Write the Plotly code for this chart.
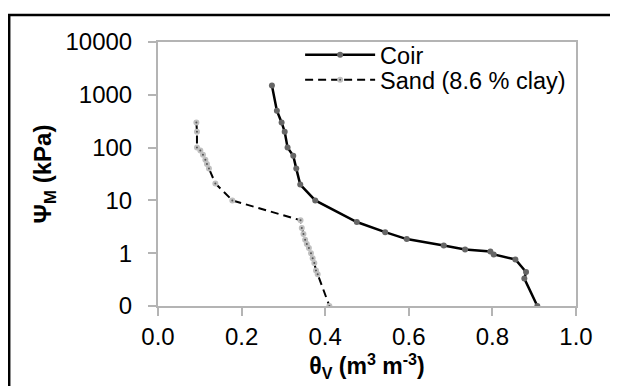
import plotly.graph_objects as go

# Coir retention curve
coir_theta = [0.2725, 0.2844, 0.2957, 0.3031, 0.310, 0.3236, 0.3308, 0.3403, 0.3762,
              0.4756, 0.5435, 0.5951, 0.6836, 0.7347, 0.7952, 0.8031, 0.855, 0.8805,
              0.8764, 0.9075]
coir_psi = [1500, 500, 300, 200, 100, 70, 40, 20, 10,
            3.9, 2.5, 1.85, 1.4, 1.18, 1.08, 0.95, 0.76, 0.44,
            0.33, 0.1]

# Sand (8.6 % clay) retention curve
sand_theta = [0.0918, 0.0932, 0.0932, 0.1013, 0.1076, 0.1133, 0.1171, 0.1219, 0.1372,
              0.1778, 0.341, 0.344, 0.348, 0.352, 0.356, 0.361, 0.366, 0.370, 0.374,
              0.378, 0.382, 0.410]
sand_psi = [300, 200, 100, 88, 73, 59, 49, 40, 21,
            10, 4.2, 3, 2.3, 1.8, 1.5, 1.25, 1, 0.8, 0.65,
            0.47, 0.4, 0.1]

y_tickvals = [0.1, 1, 10, 100, 1000, 10000]
y_ticktext = ["0", "1", "10", "100", "1000", "10000"]
x_tickvals = [0.0, 0.2, 0.4, 0.6, 0.8, 1.0]
x_ticktext = ["0.0", "0.2", "0.4", "0.6", "0.8", "1.0"]

FONT = "Liberation Sans, Arial, sans-serif"
AXIS_GREY = "#b4b4b4"

fig = go.Figure()
fig.add_trace(go.Scatter(
    x=coir_theta, y=coir_psi, name="Coir", mode="lines+markers",
    line=dict(color="black", width=2.5),
    marker=dict(color="#666666", size=6),
    legend="legend",
))
fig.add_trace(go.Scatter(
    x=sand_theta, y=sand_psi, name="Sand (8.6 % clay)", mode="lines+markers",
    line=dict(color="black", width=2, dash="8px,5px"),
    marker=dict(color="#555555", size=4, line=dict(color="#c0c0c0", width=2)),
    legend="legend2",
))

leg_common = dict(xanchor="left", yanchor="middle", bgcolor="rgba(255,255,255,0)",
                  borderwidth=0, font=dict(size=23.5), itemwidth=70)

fig.update_layout(
    width=610, height=378,
    margin=dict(l=150, r=42, t=34, b=80),
    paper_bgcolor="white", plot_bgcolor="white",
    font=dict(family=FONT, size=24, color="black"),
    showlegend=True,
    legend=dict(x=0.34, y=0.951, **leg_common),
    legend2=dict(x=0.34, y=0.856, **leg_common),
    shapes=[dict(type="rect", xref="paper", yref="paper",
                 x0=-0.356, x1=1.2, y0=-0.5, y1=1.102,
                 line=dict(color="black", width=2.5), fillcolor="rgba(0,0,0,0)",
                 layer="above")],
)

fig.update_xaxes(
    range=[0, 1], tickvals=x_tickvals, ticktext=x_ticktext,
    showline=True, linecolor=AXIS_GREY, linewidth=2, mirror=True,
    ticks="outside", ticklen=8, tickcolor=AXIS_GREY, tickwidth=1.5,
    showgrid=False, zeroline=False,
    title=dict(text="<b>θ<sub>V</sub> (m<sup>3</sup> m<sup>-3</sup>)</b>",
               font=dict(size=23), standoff=8),
)
fig.update_yaxes(
    type="log", range=[-1, 4], tickvals=y_tickvals, ticktext=y_ticktext,
    showline=True, linecolor=AXIS_GREY, linewidth=2, mirror=True,
    ticks="outside", ticklen=8, tickcolor=AXIS_GREY, tickwidth=1.5,
    ticklabelstandoff=11,
    showgrid=False, zeroline=False,
    title=dict(text="<b>Ψ<sub>M</sub> (kPa)</b>", font=dict(size=24), standoff=7),
)

fig.write_html("out.html")
